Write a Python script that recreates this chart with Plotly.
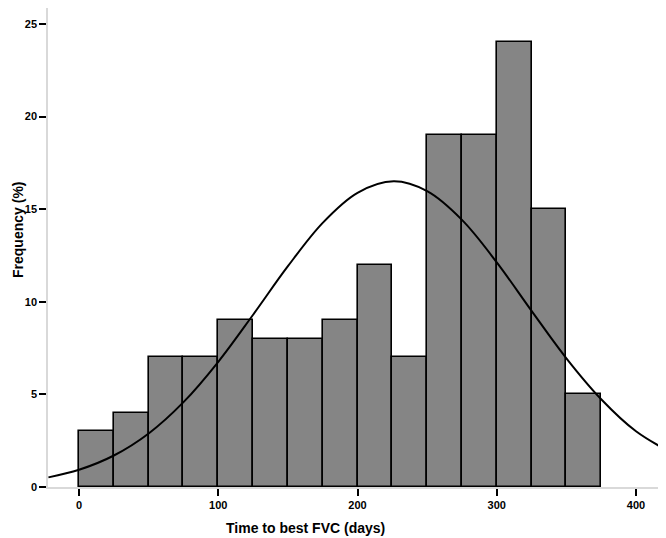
import plotly.graph_objects as go

# histogram bins (days) and frequencies
bin_start = [0, 25, 50, 75, 100, 125, 150, 175, 200, 225, 250, 275, 300, 325, 350]
freq = [3, 4, 7, 7, 9, 8, 8, 9, 12, 7, 19, 19, 24, 15, 5]
bin_width = 25

# normal overlay curve, estimated points
curve_x = [-22, 0, 25, 50, 75, 100, 125, 150, 175, 200, 226, 250, 275, 300, 325, 350, 375, 400, 428]
curve_y = [0.52, 0.93, 1.70, 2.89, 4.58, 6.76, 9.30, 11.92, 14.26, 15.88, 16.5, 15.97, 14.42, 12.13, 9.51, 6.95, 4.74, 3.01, 1.75]

x_ticks = [0, 100, 200, 300, 400]
y_ticks = [0, 5, 10, 15, 20, 25]

fig = go.Figure()
fig.add_trace(go.Bar(
    x=[b + bin_width / 2 for b in bin_start], y=freq, width=bin_width,
    marker=dict(color='#858585', line=dict(color='black', width=1.6)),
    showlegend=False, hoverinfo='x+y'))
fig.add_trace(go.Scatter(
    x=curve_x, y=curve_y, mode='lines', line=dict(color='black', width=2, shape='spline'),
    showlegend=False))

# page has an 8px body margin, so margins are shifted to compensate
font = dict(family='Liberation Sans, Arial, sans-serif', color='black')
fig.update_layout(
    width=666, height=538,
    margin=dict(l=40, r=0, t=0, b=59, autoexpand=False),
    paper_bgcolor='white', plot_bgcolor='white',
    font=font, bargap=0,
    xaxis=dict(range=[-22.3, 427.3], tickvals=x_ticks, ticktext=['<b>%d</b>' % v for v in x_ticks],
               showgrid=False, zeroline=False, showline=True, linecolor='#d9d9d9', linewidth=1.5,
               ticks='outside', ticklen=7, tickwidth=2, tickcolor='black', tickfont=dict(size=11),
               automargin=False),
    yaxis=dict(range=[0, 25.86], tickvals=y_ticks, ticktext=['<b>%d</b>' % v for v in y_ticks],
               showgrid=False, zeroline=False, showline=True, linecolor='#d9d9d9', linewidth=1.5,
               ticks='outside', ticklen=7, tickwidth=2, tickcolor='black', tickfont=dict(size=11),
               automargin=False),
    annotations=[
        dict(text='<b>Time to best FVC (days)</b>', xref='paper', yref='paper', x=(297 - 40) / 626, y=-0.0856,
             xanchor='center', yanchor='middle', showarrow=False, font=dict(size=14)),
        dict(text='<b>Frequency (%)</b>', xref='paper', yref='paper', x=-0.048, y=0.5365,
             xanchor='center', yanchor='middle', textangle=-90, showarrow=False, font=dict(size=14)),
    ],
)

fig.write_html("out.html")
